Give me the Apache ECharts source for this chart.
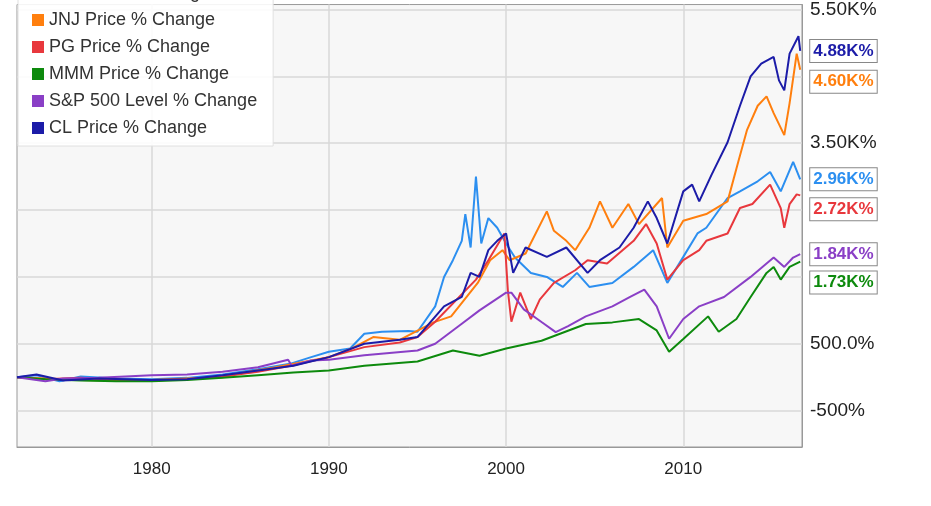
<!DOCTYPE html>
<html><head><meta charset="utf-8">
<script src="https://cdn.jsdelivr.net/npm/echarts@6/dist/echarts.min.js"></script>
<style>html,body{margin:0;padding:0;background:#fff}#c{width:931px;height:506px}</style>
</head><body><div id="c"></div>
<script>
var seriesNames = ['KO Price % Change','JNJ Price % Change','PG Price % Change','MMM Price % Change','S&P 500 Level % Change','CL Price % Change'];
var colors = ['#2c8ff0','#ff7f0e','#e8383d','#0d8a0d','#8a3fc6','#1c1ca8'];
var yTickValues = [-500, 500, 3500, 5500];
var yGridValues = [-500, 500, 1500, 2500, 3500, 4500, 5500];
var xTickValues = [1980, 1990, 2000, 2010];
var KO = [[1972.4,0],[1973.5,30],[1974.8,-60],[1976,10],[1978,-20],[1980,-30],[1982,-10],[1984,40],[1986,120],[1987.8,200],[1989,300],[1990,380],[1991.2,430],[1992,650],[1993,680],[1994.5,690],[1995,680],[1996,1060],[1996.5,1500],[1997,1750],[1997.5,2040],[1997.7,2440],[1998,1940],[1998.3,3000],[1998.6,2000],[1999,2380],[1999.5,2235],[2000,2000],[2000.5,1790],[2001.4,1560],[2002.3,1500],[2003.2,1350],[2004,1560],[2004.7,1350],[2006,1410],[2007.2,1650],[2008.3,1900],[2009.1,1410],[2010,1800],[2010.8,2150],[2011.3,2235],[2012.5,2680],[2013.2,2780],[2014.2,2930],[2014.9,3070],[2015.5,2780],[2016.2,3220],[2016.6,2960]];
var JNJ = [[1972.4,0],[1974,-20],[1976,-40],[1978,-50],[1980,-40],[1982,-20],[1984,0],[1985,60],[1987,150],[1989,250],[1990,300],[1991.3,430],[1992.5,600],[1994,560],[1995.9,820],[1996.9,910],[1998.4,1410],[1999.1,1750],[1999.8,1900],[2000.2,1750],[2001.1,1850],[2002.3,2480],[2002.7,2190],[2003.4,2040],[2003.9,1900],[2004.7,2235],[2005.3,2630],[2006,2235],[2006.9,2590],[2007.5,2290],[2008.8,2680],[2009.1,1940],[2010,2340],[2011.3,2440],[2012.5,2630],[2013.1,3220],[2013.6,3700],[2014.2,4060],[2014.7,4200],[2015.1,3950],[2015.7,3620],[2016,4100],[2016.4,4840],[2016.6,4600]];
var PG = [[1972.4,0],[1974,-30],[1976,-10],[1978,-40],[1980,-50],[1982,-30],[1984,10],[1986,80],[1988,180],[1990,300],[1992,450],[1994,520],[1995,600],[1996,830],[1998.3,1460],[1999,1750],[1999.9,2150],[2000.1,1300],[2000.3,830],[2000.8,1265],[2001.4,870],[2001.9,1160],[2002.7,1410],[2003.9,1600],[2004.6,1750],[2005.7,1700],[2007.2,2040],[2007.9,2290],[2008.5,2000],[2009.1,1460],[2010,1750],[2010.9,1900],[2011.3,2040],[2012.5,2150],[2013.2,2530],[2013.9,2590],[2014.9,2880],[2015.5,2530],[2015.7,2235],[2016,2590],[2016.4,2735],[2016.6,2720]];
var MMM = [[1972.4,0],[1974,-30],[1976,-50],[1978,-60],[1980,-60],[1982,-40],[1984,-10],[1986,30],[1988,70],[1990,100],[1992,170],[1995,235],[1997,400],[1998.5,320],[2000,430],[2002,545],[2004.5,795],[2006,820],[2007.5,870],[2008.5,700],[2009.2,380],[2010,570],[2011.4,910],[2012,680],[2013,870],[2013.8,1200],[2014.7,1560],[2015.1,1650],[2015.5,1460],[2016,1650],[2016.6,1730]];
var SPX = [[1972.4,0],[1974,-60],[1975,-20],[1977,-10],[1980,30],[1982,40],[1984,80],[1986,150],[1987.7,260],[1987.9,170],[1989,250],[1990,260],[1992,330],[1995,400],[1996,500],[1997.5,800],[1998.5,1000],[2000,1265],[2000.3,1265],[2001,1015],[2002,825],[2002.8,675],[2003.5,765],[2004.5,910],[2006,1060],[2007,1200],[2007.8,1310],[2008.5,1060],[2009.2,575],[2010,870],[2010.9,1060],[2012.3,1200],[2013.8,1500],[2015.1,1790],[2015.7,1650],[2016.2,1790],[2016.6,1840]];
var CL = [[1972.4,0],[1973.5,40],[1975,-50],[1977,-20],[1980,-40],[1982,-30],[1984,30],[1986,100],[1988,170],[1990,300],[1992,500],[1994,560],[1995,600],[1996.5,1060],[1997.5,1200],[1998,1560],[1998.5,1500],[1999,1900],[1999.5,2040],[2000,2150],[2000.4,1560],[2001.1,1940],[2002.3,1800],[2003.4,1940],[2004.6,1560],[2005.3,1750],[2006.4,1940],[2007.2,2235],[2008,2630],[2008.5,2380],[2009.1,2000],[2010,2780],[2010.5,2880],[2010.9,2630],[2011.6,3030],[2012.5,3515],[2013.2,4060],[2013.8,4500],[2014.4,4690],[2015.1,4790],[2015.4,4440],[2015.7,4290],[2016,4840],[2016.5,5100],[2016.6,4880]];
var allData = [KO, JNJ, PG, MMM, SPX, CL];
var labelOffsets = [0, 12, 14, 21, 0, 0];

function fmtY(v){
  if (Math.abs(v) >= 1000) return (v/1000).toFixed(2) + 'K%';
  if (v === 500) return '500.0%';
  return v + '%';
}
function endFmt(p){ var v = p.value[1]; return (v/1000).toFixed(2) + 'K%'; }

var series = allData.map(function(d, i){
  return {
    name: seriesNames[i], type: 'line', data: d, showSymbol: false, symbol: 'none',
    lineStyle: { width: 2, color: colors[i] }, itemStyle: { color: colors[i] },
    z: 3 + (i === 5 ? 1 : 0),
    endLabel: { show: true, formatter: endFmt, color: colors[i], fontWeight: 'bold', fontSize: 17,
      fontFamily: 'Liberation Sans', backgroundColor: '#fff', borderColor: '#888', borderWidth: 1,
      padding: [3, 3, 2, 3], distance: 10, offset: [0, labelOffsets[i]] }
  };
});
series.push({
  type: 'line', data: [], silent: true, z: 1,
  markLine: { silent: true, symbol: 'none', label: { show: false }, z: 1,
    lineStyle: { color: '#d8d8d8', type: 'solid', width: 1.5 },
    data: yGridValues.map(function(v){ return { yAxis: v }; }).concat(xTickValues.map(function(v){ return { xAxis: v }; })) }
});

var chart = echarts.init(document.getElementById('c'));
chart.setOption({
  animation: false,
  backgroundColor: '#fff',
  textStyle: { fontFamily: 'Liberation Sans' },
  grid: { left: 17, right: 129, top: 0, bottom: 59, show: true, backgroundColor: '#f7f7f7', borderColor: '#999', borderWidth: 1 },
  legend: {
    data: seriesNames, orient: 'vertical', left: 18, top: -24, itemWidth: 12, itemHeight: 12, itemGap: 9,
    icon: 'rect', z: 20, textStyle: { fontSize: 18, color: '#333', fontFamily: 'Liberation Sans' },
    backgroundColor: 'rgba(255,255,255,0.9)', borderColor: '#e0e0e0', borderWidth: 1, padding: [8, 16, 9, 14]
  },
  xAxis: { type: 'value', min: 1972.4, max: 2016.7,
    axisLine: { show: true, onZero: false, lineStyle: { color: '#999' } }, axisTick: { show: false }, splitLine: { show: false },
    axisLabel: { customValues: xTickValues, color: '#222', fontSize: 17, margin: 14, formatter: function(v){ return String(v); } } },
  yAxis: { type: 'value', position: 'right', min: -1044, max: 5574,
    axisLine: { show: true, onZero: false, lineStyle: { color: '#999' } }, axisTick: { show: false }, splitLine: { show: false },
    axisLabel: { customValues: yTickValues, color: '#222', fontSize: 19, margin: 8, formatter: fmtY } },
  series: series
});
</script></body></html>
